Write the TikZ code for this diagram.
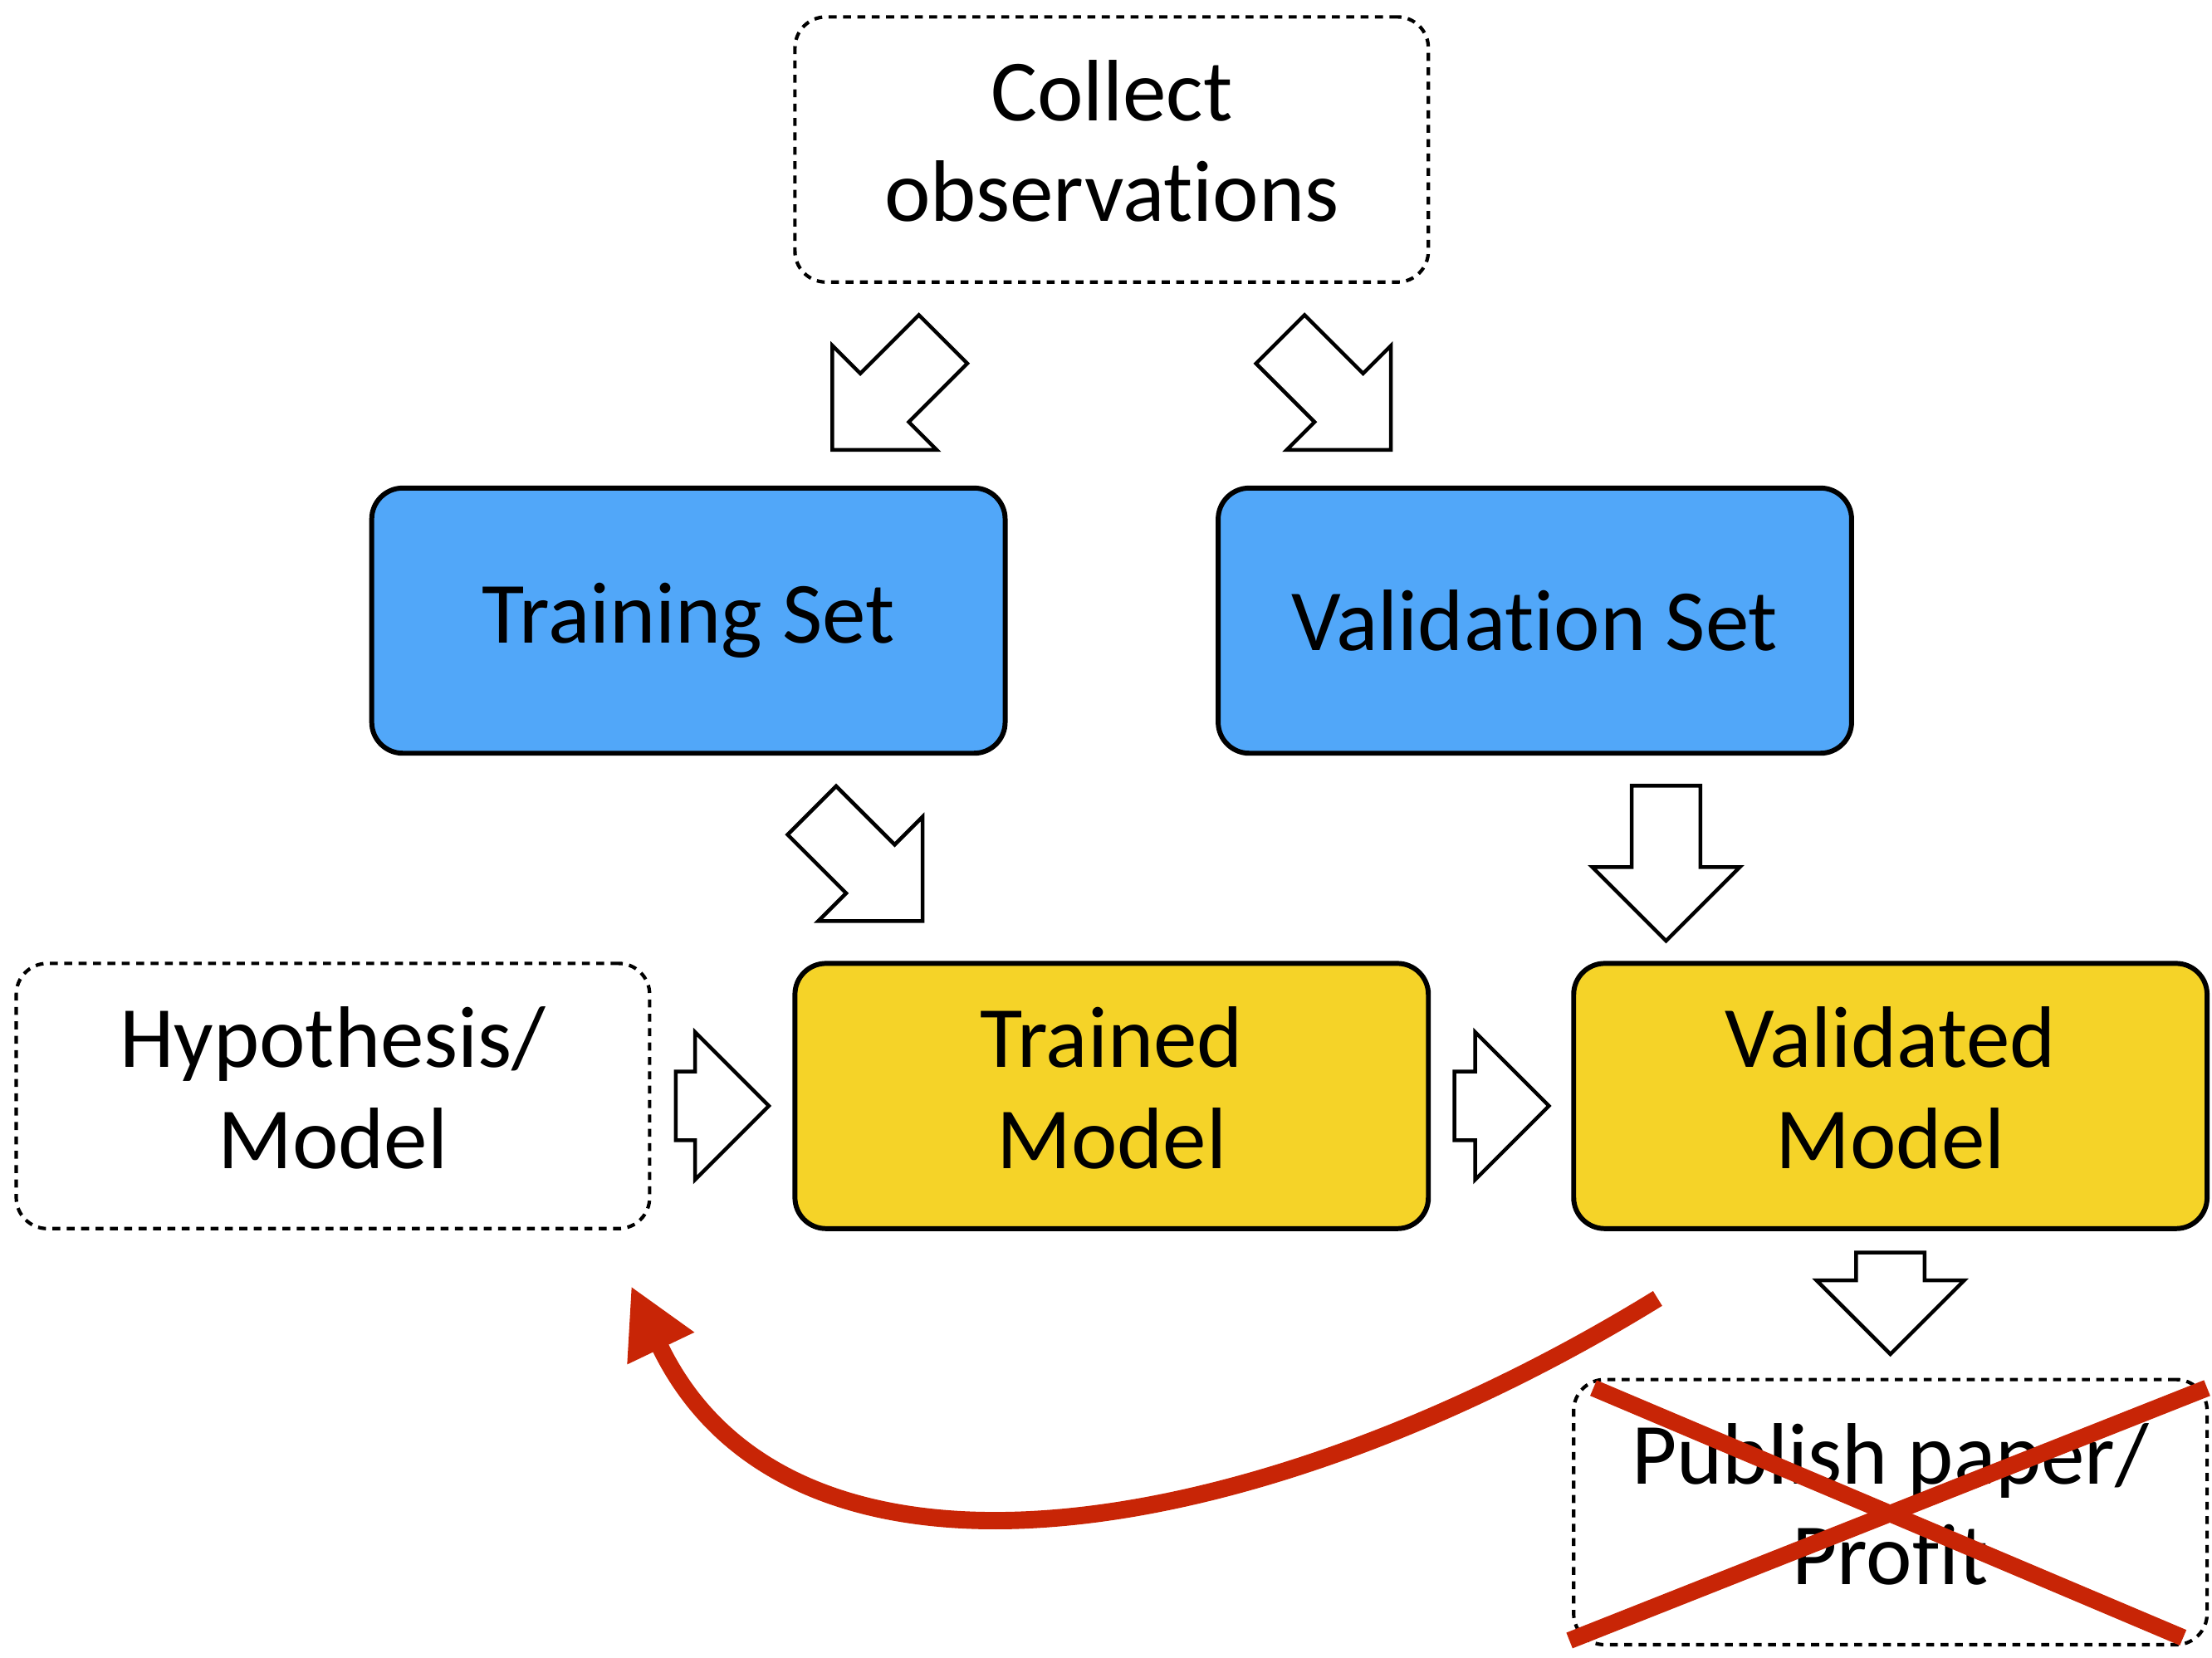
\documentclass[tikz,border=0pt]{standalone}
\usepackage{fontspec}
\setmainfont{Carlito}[Ligatures=NoCommon]
\usetikzlibrary{positioning, shapes.arrows, arrows.meta, calc}
\definecolor{setblue}{HTML}{51A7F9}
\definecolor{modelyellow}{HTML}{F5D328}
\definecolor{crossred}{HTML}{C82506}

\begin{document}
\begin{tikzpicture}[every node/.style={outer sep=0,align=center,
      font=\fontsize{17.6}{20.3}\selectfont},
   box/.style={minimum width=4.49cm, minimum height=1.88cm,
      rounded corners=0.22cm},
   setbox/.style={box, draw, line width=1pt, fill=setblue},
   modelbox/.style={box, draw, line width=1pt, fill=modelyellow,
      text depth=0.12cm},
   openbox/.style={box, draw, line width=0.7pt,
      dash pattern=on 1.6pt off 1.3pt, text depth=0.12cm},
   fatarrow/.style={single arrow, draw, line width=0.75pt, fill=white,
      anchor=tip, inner xsep=0, inner ysep=0.23cm,
      single arrow head extend=0.28cm, single arrow tip angle=90},
   cross/.style={crossred, line width=3.4pt}]
   \useasboundingbox (0,0) rectangle (15.68,11.75);

   \node[openbox] (collect) at (7.88,10.69) {Collect\\observations};

   \node[setbox, below=1.46cm of collect, xshift=-3cm] (train) {Training Set};
   \node[setbox, below=1.46cm of collect, xshift=3cm] (valset) {Validation Set};

   \node[modelbox, below=1.49cm of train, xshift=3cm] (trained) {Trained\\Model};
   \node[openbox, left=1.03cm of trained] (hypo) {Hypothesis/\\Model};
   \node[modelbox, right=1.03cm of trained] (validated) {Validated\\Model};
   \node[openbox, below=1.07cm of validated] (publish) {Publish paper/\\Profit};

   % block arrows
   \node[fatarrow, rotate=-135, minimum height=1.11cm] (collecttrain) at (5.90,8.56) {};
   \node[fatarrow, rotate=-45, minimum height=1.11cm] (collectval) at (9.86,8.56) {};
   \node[fatarrow, rotate=-45, minimum height=1.11cm] (traintrained) at (6.54,5.22) {};
   \node[fatarrow, rotate=-90, minimum height=1.10cm] (valvalidated) at (11.81,5.08) {};
   \node[fatarrow, minimum height=0.66cm] (hypotrained) at (5.45,3.91) {};
   \node[fatarrow, minimum height=0.67cm] (trainedvalidated) at (10.98,3.91) {};
   \node[fatarrow, rotate=-90, minimum height=0.72cm] (validatedpublish) at (13.40,2.15) {};

   % back to the hypothesis
   \coordinate (loopstart) at (11.75,2.545);
   \coordinate (loopend) at (4.473,2.633);
   \draw[cross, line width=3.5pt, -{Triangle[length=0.49cm,width=0.49cm]}] (loopstart)
      .. controls (9.0,0.85) and (5.63,0.21) .. (loopend);

   % crossed out
   \draw[cross] ($(publish.north west)+(0.14,-0.06)$) --
      ($(publish.south east)+(-0.17,0.05)$);
   \draw[cross] ($(publish.south west)+(-0.03,0.03)$) --
      ($(publish.north east)+(0,-0.06)$);

\end{tikzpicture}
\end{document}
